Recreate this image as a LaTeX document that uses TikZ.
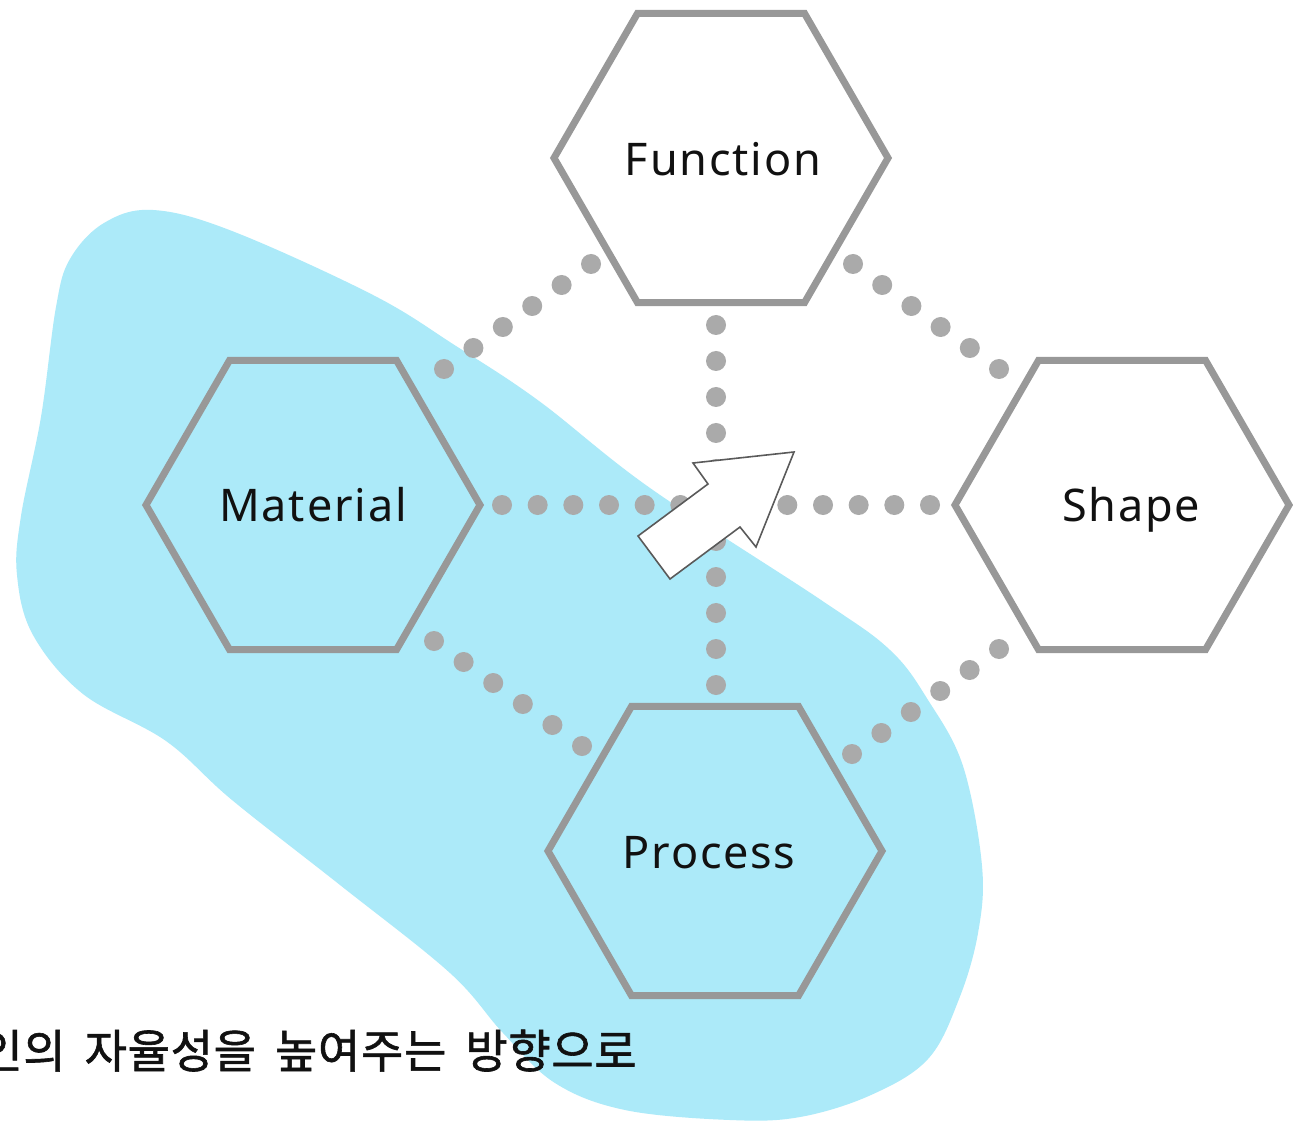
\documentclass[tikz,border=0pt]{standalone}
\usepackage{fontspec}
\setmainfont{Noto Sans}
\newfontfamily\cjk[FakeBold=1.3]{Noto Sans CJK KR}
\usetikzlibrary{shapes.geometric,calc}
\definecolor{blobblue}{RGB}{172,234,249}
\definecolor{hexgray}{RGB}{152,152,152}
\definecolor{dotgray}{RGB}{170,170,170}
\definecolor{inkblack}{RGB}{17,17,17}
\definecolor{arrowline}{RGB}{90,90,90}
\newcommand{\wgap}{\hspace{4pt} }
\begin{document}
\begin{tikzpicture}[x=0.5pt,y=-0.5pt,
  hexnode/.style={regular polygon, regular polygon sides=6, minimum size=167pt,
    inner sep=0pt, outer sep=0pt, draw=hexgray, line width=3.5pt},
  hexlabel/.style={font=\fontsize{22.5}{26}\selectfont\addfontfeature{LetterSpace=4},
    text=inkblack, text height=16pt, text depth=0pt, inner sep=0pt},
  dotcolor/.style={fill=dotgray},
  bigarrow/.style={fill=white, draw=arrowline, line width=0.8pt, line join=miter}]
\useasboundingbox (0,0) rectangle (1293,1122);
\clip (0,0) rectangle (1293,1122);
\fill[white] (0,0) rectangle (1293,1122);

% blue region
\fill[blobblue] plot[smooth cycle, tension=0.6] coordinates {
  (153,210) (232,231) (373,295) (456,346) (539,401) (650,488) (821,600)
  (890,650) (928,700) (963,766) (982,866) (978,933) (959,999) (928,1059)
  (871,1095) (800,1117) (730,1120) (625,1110) (555,1083) (503,1033) (450,973)
  (340,885) (232,800) (166,741) (83,694) (33,635) (17,575) (21,516)
  (41,417) (56,307) (70,259) (104,223)};

% end points of the dotted connectors
\coordinate (fm1) at (591,264); \coordinate (fm2) at (444,369);
\coordinate (fs1) at (853,264); \coordinate (fs2) at (999,369);
\coordinate (fp1) at (716,325); \coordinate (fp2) at (716,685);
\coordinate (ms1) at (502,505); \coordinate (ms2) at (930,505);
\coordinate (mp1) at (434,641); \coordinate (mp2) at (582,746);
\coordinate (sp1) at (999,649); \coordinate (sp2) at (852,754);

\foreach \a/\b/\n in {fm1/fm2/5, fs1/fs2/5, fp1/fp2/10, ms1/ms2/12, mp1/mp2/5, sp1/sp2/5}{
  \foreach \i in {0,...,\n}{
    \fill[dotcolor] ($(\a)!\i/\n!(\b)$) circle (5pt);
  }
}

% hexagons
\node[hexnode] (F) at (721,158) {};
\node[hexnode] (M) at (313,505) {};
\node[hexnode] (S) at (1122,505) {};
\node[hexnode] (P) at (715,851) {};

\node[hexlabel] (Flabel) at (723,160) {Function};
\node[hexlabel] (Mlabel) at (313,505) {Material};
\node[hexlabel] (Slabel) at (1131,505) {Shape};
\node[hexlabel] (Plabel) at (709,852) {Process};

% arrow
\draw[bigarrow] (794,452) -- (756,547) -- (740,527) -- (670,579) -- (638,536)
  -- (708,484) -- (693,463) -- cycle;

% caption
\node[anchor=base west, inner sep=0pt, text=inkblack,
  font=\cjk\fontsize{23}{27}\selectfont\addfontfeature{LetterSpace=1.5}] (caption)
  at (-20,1068) {인의\wgap 자율성을\wgap 높여주는\wgap 방향으로};
\end{tikzpicture}
\end{document}
